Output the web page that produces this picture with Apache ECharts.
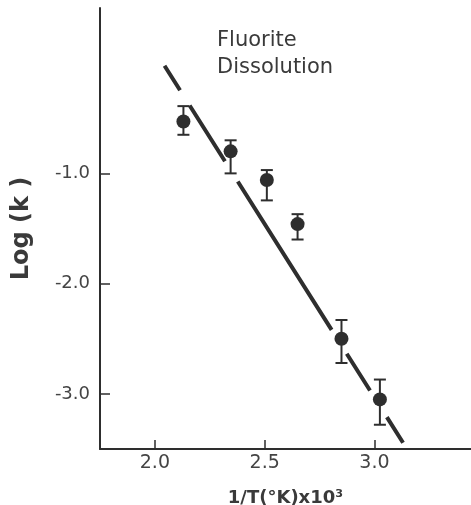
<!DOCTYPE html>
<html>
<head>
<meta charset="utf-8">
<script src="https://cdn.jsdelivr.net/npm/echarts@6/dist/echarts.min.js"></script>
<style>
  html, body { margin: 0; padding: 0; background: #fff; }
  #chart { width: 471px; height: 505px; }
</style>
</head>
<body>
<div id="chart"></div>
<script>
// measured points, 1/T x 10^3 vs log(k)
var invT = [2.13, 2.345, 2.51, 2.65, 2.85, 3.025];
var logK = [-0.53, -0.8, -1.06, -1.46, -2.5, -3.05];
var errHi = [-0.39, -0.70, -0.97, -1.37, -2.33, -2.87];
var errLo = [-0.65, -1.0, -1.245, -1.60, -2.72, -3.28];

// fitted line ends
var fitX = [2.044, 3.132];
var fitY = [-0.024, -3.448];

var xTicks = [2.0, 2.5, 3.0];
var yTicks = [-1.0, -2.0, -3.0];

var ink = '#2e2e2e';
var font = 'DejaVu Sans';

window.onload = function () {
  var chart = echarts.init(document.getElementById('chart'));

  var points = invT.map(function (x, i) { return [x, logK[i]]; });
  var bars = invT.map(function (x, i) { return [x, errLo[i], errHi[i]]; });
  var fit = fitX.map(function (x, i) { return [x, fitY[i]]; });

  function renderBar(params, api) {
    var lo = api.coord([api.value(0), api.value(1)]);
    var hi = api.coord([api.value(0), api.value(2)]);
    var w = 6;
    var style = { stroke: ink, lineWidth: 2 };
    return {
      type: 'group',
      children: [
        { type: 'line', shape: { x1: lo[0], y1: lo[1], x2: hi[0], y2: hi[1] }, style: style },
        { type: 'line', shape: { x1: lo[0] - w, y1: lo[1], x2: lo[0] + w, y2: lo[1] }, style: style },
        { type: 'line', shape: { x1: hi[0] - w, y1: hi[1], x2: hi[0] + w, y2: hi[1] }, style: style }
      ]
    };
  }

  var option = {
    animation: false,
    backgroundColor: '#fff',
    grid: { left: 100, right: 0, top: 8, bottom: 56, outerBoundsMode: 'none' },
    xAxis: {
      type: 'value',
      min: 1.75,
      max: 3.44,
      name: '1/T(°K)x10³',
      nameLocation: 'middle',
      nameGap: 40,
      nameTextStyle: { fontFamily: font, fontSize: 18, fontWeight: 'bold', color: '#3a3a3a' },
      axisLine: { onZero: false, lineStyle: { color: ink, width: 2 } },
      axisTick: { inside: true, length: 9, customValues: xTicks, lineStyle: { color: ink, width: 1.5 } },
      axisLabel: {
        customValues: xTicks,
        margin: 5,
        fontFamily: font,
        fontSize: 19,
        color: '#444',
        formatter: function (v) { return v.toFixed(1); }
      },
      splitLine: { show: false }
    },
    yAxis: {
      type: 'value',
      min: -3.5,
      max: 0.5,
      name: 'Log (k )',
      nameLocation: 'middle',
      nameGap: 66,
      nameTextStyle: { fontFamily: font, fontSize: 24, fontWeight: 'bold', color: '#3a3a3a' },
      axisLine: { onZero: false, lineStyle: { color: ink, width: 2 } },
      axisTick: { inside: true, length: 10, customValues: yTicks, lineStyle: { color: ink, width: 1.5 } },
      axisLabel: {
        customValues: yTicks,
        margin: 10,
        fontFamily: font,
        fontSize: 18,
        color: '#444',
        formatter: function (v) { return v.toFixed(1); }
      },
      splitLine: { show: false }
    },
    graphic: [{
      type: 'text',
      left: 217,
      top: 27,
      style: {
        text: 'Fluorite\nDissolution',
        font: '21px "DejaVu Sans"',
        lineHeight: 27,
        fill: '#3a3a3a'
      }
    }],
    series: [
      {
        type: 'line',
        data: fit,
        showSymbol: false,
        silent: true,
        lineStyle: {
          color: ink,
          width: 4,
          type: [29, 18, 66, 24, 175.5, 28.3, 43.5, 31.5, 30.3, 10],
          cap: 'butt'
        }
      },
      {
        type: 'custom',
        data: bars,
        renderItem: renderBar,
        silent: true
      },
      {
        type: 'scatter',
        data: points,
        symbol: 'circle',
        symbolSize: 14,
        itemStyle: { color: ink, opacity: 1 }
      }
    ]
  };

  chart.setOption(option);
};
</script>
</body>
</html>
